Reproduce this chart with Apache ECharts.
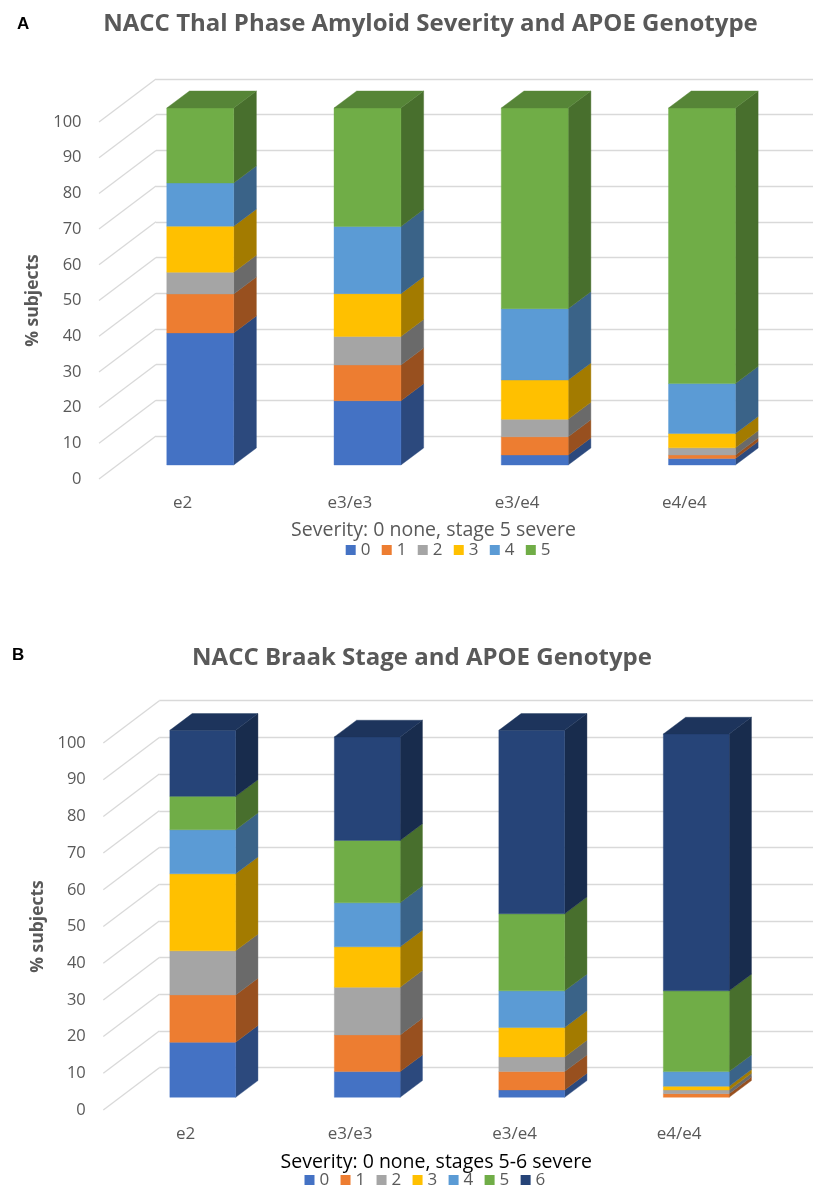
<!DOCTYPE html>
<html>
<head>
<meta charset="utf-8">
<script src="https://cdn.jsdelivr.net/npm/echarts@6/dist/echarts.min.js"></script>
<style>html,body{margin:0;padding:0;background:#fff}#c{width:813px;height:1188px}</style>
</head>
<body>
<div id="c"></div>
<script>
const genotypes = ['e2', 'e3/e3', 'e3/e4', 'e4/e4'];
const yTicks = [0, 10, 20, 30, 40, 50, 60, 70, 80, 90, 100];

// Panel A: share of subjects per Thal phase, by genotype order
const thal0 = [37, 18, 2.8, 1.8];
const thal1 = [10.9, 10, 5.1, 1];
const thal2 = [6.1, 8, 4.9, 2];
const thal3 = [12.9, 12, 11, 4];
const thal4 = [12.1, 18.8, 20, 14];
const thal5 = [21, 33.2, 56.2, 77.2];

// Panel B: share of subjects per Braak stage, by genotype order
const braak0 = [15, 7, 2, 0];
const braak1 = [12.9, 10, 5, 1];
const braak2 = [12, 13, 4, 1];
const braak3 = [21, 11, 8, 1];
const braak4 = [12, 12, 10, 4];
const braak5 = [9.1, 17, 21, 22];
const braak6 = [18, 28.2, 50, 70];

const thalSeries = [thal0, thal1, thal2, thal3, thal4, thal5];
const braakSeries = [braak0, braak1, braak2, braak3, braak4, braak5, braak6];
const stageNames = ['0', '1', '2', '3', '4', '5', '6'];
const stageColors = ['#4472C4', '#ED7D31', '#A5A5A5', '#FFC000', '#5B9BD5', '#70AD47', '#264478'];

const FONT = '"Open Sans", sans-serif';
const GRAY = '#595959';
const GRID_LINE = '#D9D9D9';

function shade(hex, f) {
  const n = parseInt(hex.slice(1), 16);
  const c = [n >> 16 & 255, n >> 8 & 255, n & 255].map(v => Math.round(v * f));
  return 'rgb(' + c.join(',') + ')';
}

const panels = [
  { title: 'NACC Thal Phase Amyloid Severity and APOE Genotype', titleX: 425.5, titleY: 7, titleSize: 24,
    xName: 'Severity: 0 none, stage 5 severe', xNameColor: GRAY, xNameSize: 19.5, xNameGap: 41, xNamePad: [0, 0, 0, 0],
    yNameGap: 51,
    left: 99, top: 122, width: 669, height: 357, wallDx: 57, wallDy: 43,
    barDx: 17.6, barDy: 14, depthDx: 22.7, depthDy: 17, stacks: thalSeries,
    legendLeft: 345.7, legendTop: 541.5 },
  { title: 'NACC Braak Stage and APOE Genotype', titleX: 417, titleY: 641, titleSize: 24,
    xName: 'Severity: 0 none, stages 5-6 severe', xNameColor: '#000', xNameSize: 19.5, xNameGap: 42, xNamePad: [0, 0, 0, 8],
    yNameGap: 50,
    left: 103.3, top: 743, width: 658, height: 367, wallDx: 56, wallDy: 42.3,
    barDx: 17.2, barDy: 12.7, depthDx: 22.3, depthDy: 16.7, stacks: braakSeries,
    legendLeft: 304.5, legendTop: 1171.5 }
];

const option = {
  animation: false,
  backgroundColor: '#fff',
  textStyle: { fontFamily: FONT },
  title: [], grid: [], xAxis: [], yAxis: [], legend: [], series: [],
  graphic: [
    { type: 'text', left: 17, top: 16, style: { text: 'A', font: 'bold 17px "Liberation Sans"', fill: '#000' } },
    { type: 'text', left: 12, top: 647, style: { text: 'B', font: 'bold 17px "Liberation Sans"', fill: '#000' } }
  ]
};

function stackRenderer(p, stageIndex, isTop) {
  return function (params, api) {
    const cat = api.value(0), v0 = api.value(1), v1 = api.value(2);
    if (v1 <= v0) return null;
    const band = api.size([1, 0])[0];
    const half = band * 0.2;
    const bottom = api.coord([cat, v0]);
    const top = api.coord([cat, v1]);
    const xl = bottom[0] - half + p.barDx, xr = bottom[0] + half + p.barDx;
    const yb = bottom[1] - p.barDy, yt = top[1] - p.barDy;
    const col = stageColors[stageIndex];
    const poly = (points, fill) => ({
      type: 'polygon', shape: { points },
      style: { fill, stroke: fill, lineWidth: 0.4 }
    });
    const children = [
      poly([[xr, yb], [xr + p.depthDx, yb - p.depthDy], [xr + p.depthDx, yt - p.depthDy], [xr, yt]], shade(col, 0.64)),
      poly([[xl, yb], [xr, yb], [xr, yt], [xl, yt]], col)
    ];
    if (isTop) {
      children.push(poly([[xl, yt], [xr, yt], [xr + p.depthDx, yt - p.depthDy], [xl + p.depthDx, yt - p.depthDy]], shade(col, 0.77)));
    }
    return { type: 'group', children };
  };
}

panels.forEach((p, i) => {
  const wallGrid = i * 2, frontGrid = i * 2 + 1;
  option.title.push({
    text: p.title, left: p.titleX, top: p.titleY, textAlign: 'center',
    textStyle: { color: GRAY, fontFamily: FONT, fontSize: p.titleSize, fontWeight: 'bold' }
  });
  option.grid.push(
    { left: p.left + p.wallDx, top: p.top - p.wallDy, width: p.width, height: p.height },
    { left: p.left, top: p.top, width: p.width, height: p.height }
  );
  option.xAxis.push(
    { gridIndex: wallGrid, type: 'category', data: genotypes, show: false },
    { gridIndex: frontGrid, type: 'category', data: genotypes,
      axisLine: { show: false }, axisTick: { show: false },
      axisLabel: { color: GRAY, fontSize: 17, margin: 16, fontFamily: FONT },
      name: p.xName, nameLocation: 'middle', nameGap: p.xNameGap,
      nameTextStyle: { color: p.xNameColor, fontSize: p.xNameSize, fontFamily: FONT, padding: p.xNamePad } }
  );
  option.yAxis.push(
    { gridIndex: wallGrid, type: 'value', min: 0, max: 100, interval: 10,
      axisLine: { show: false }, axisTick: { show: false }, axisLabel: { show: false },
      splitLine: { show: true, lineStyle: { color: GRID_LINE, width: 1.3 } } },
    { gridIndex: frontGrid, type: 'value', min: 0, max: 100, interval: 10,
      axisLine: { show: false }, axisTick: { show: false }, splitLine: { show: false },
      axisLabel: { color: GRAY, fontSize: 16.5, margin: 17.5, fontFamily: FONT },
      name: '% subjects', nameLocation: 'middle', nameGap: p.yNameGap,
      nameTextStyle: { color: GRAY, fontSize: 17.5, fontWeight: 'bold', fontFamily: FONT } }
  );
  option.legend.push({
    left: p.legendLeft, top: p.legendTop, padding: 0, itemWidth: 10, itemHeight: 10, itemGap: 11.3,
    icon: 'rect',
    data: stageNames.slice(0, p.stacks.length),
    selectedMode: false,
    textStyle: { color: GRAY, fontSize: 17, fontFamily: FONT }
  });

  // floor/side wall lines joining the axis plane to the back wall
  option.series.push({
    type: 'custom', xAxisIndex: frontGrid, yAxisIndex: frontGrid, silent: true, z: 1,
    data: yTicks.map(v => [0, v]), encode: { x: 0, y: 1 },
    renderItem(params, api) {
      const c = api.coord([api.value(0), api.value(1)]);
      const x = c[0] - api.size([1, 0])[0] / 2;
      return { type: 'line', shape: { x1: x, y1: c[1], x2: x + p.wallDx, y2: c[1] - p.wallDy },
        style: { stroke: GRID_LINE, lineWidth: 1.3 } };
    }
  });

  // stacked boxes
  const running = genotypes.map(() => 0);
  p.stacks.forEach((vals, s) => {
    const rows = vals.map((v, c) => { const row = [c, running[c], running[c] + v]; running[c] += v; return row; });
    option.series.push({
      type: 'custom', name: stageNames[s], xAxisIndex: frontGrid, yAxisIndex: frontGrid, z: 3,
      data: rows, encode: { x: 0, y: [1, 2] },
      itemStyle: { color: stageColors[s] },
      renderItem: stackRenderer(p, s, s === p.stacks.length - 1)
    });
  });
});

const chart = echarts.init(document.getElementById('c'), null, { renderer: 'canvas' });
chart.setOption(option);
</script>
</body>
</html>
